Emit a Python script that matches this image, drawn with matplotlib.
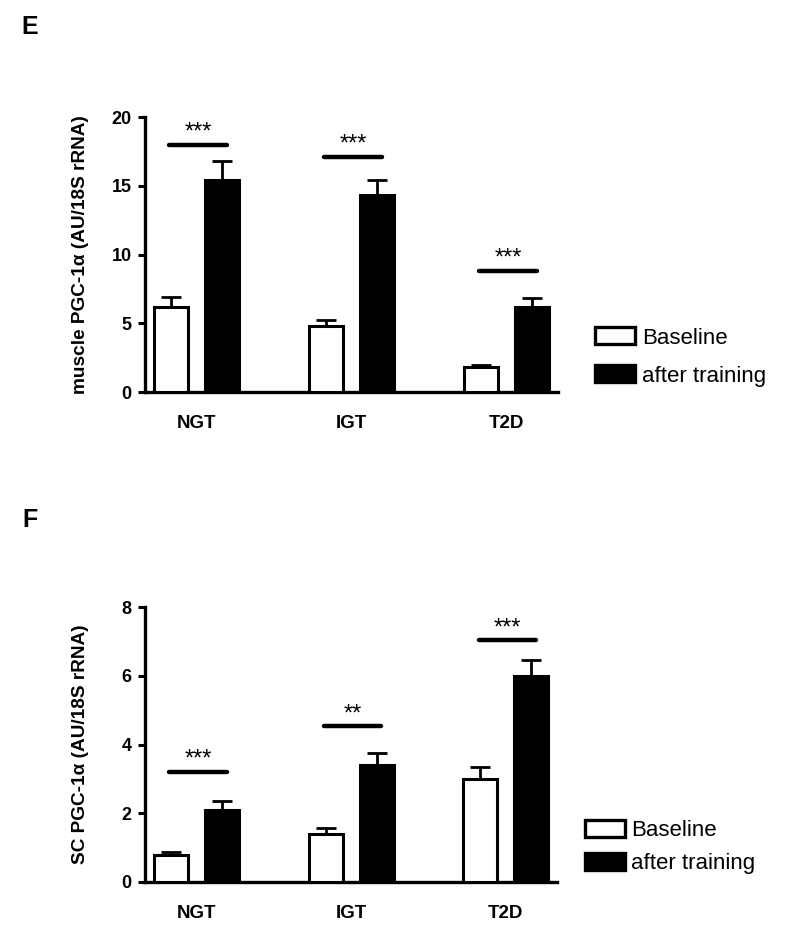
import numpy as np
import matplotlib
matplotlib.use("Agg")
import matplotlib.pyplot as plt
from matplotlib.patches import Patch

plt.rcParams['font.family'] = ['Liberation Sans', 'DejaVu Sans']

groups = ['NGT', 'IGT', 'T2D']

# panel E: muscle PGC-1a
muscle_base = [6.2, 4.8, 1.8]
muscle_base_err = [0.7, 0.45, 0.15]
muscle_train = [15.45, 14.3, 6.2]
muscle_train_err = [1.35, 1.15, 0.65]
muscle_sig = ['***', '***', '***']
muscle_sig_y = [18.0, 17.1, 8.8]

# panel F: SC PGC-1a
sc_base = [0.8, 1.4, 3.0]
sc_base_err = [0.07, 0.18, 0.35]
sc_train = [2.1, 3.4, 6.0]
sc_train_err = [0.25, 0.35, 0.47]
sc_sig = ['***', '**', '***']
sc_sig_y = [3.2, 4.53, 7.03]


def panel(ax, base, base_err, train, train_err, sig, sig_y, ymax, yticks, ylabel):
    x = np.arange(len(groups))
    off = 0.166
    w = 0.22
    ax.bar(x - off, base, w, color='white', edgecolor='black', linewidth=2.2, zorder=3,
           yerr=[np.zeros(len(base)), base_err],
           error_kw=dict(ecolor='black', elinewidth=2.0, capsize=7, capthick=2.0, zorder=2))
    ax.bar(x + off, train, w, color='black', edgecolor='black', linewidth=2.2, zorder=3,
           yerr=[np.zeros(len(train)), train_err],
           error_kw=dict(ecolor='black', elinewidth=2.0, capsize=7, capthick=2.0, zorder=2))

    for i in range(len(groups)):
        ax.plot([x[i] - off - 0.01, x[i] + off + 0.03], [sig_y[i], sig_y[i]],
                color='black', lw=3.2, solid_capstyle='round', clip_on=False, zorder=4)
        ax.annotate(sig[i], (x[i] + 0.01, sig_y[i]), xytext=(0, 4.5),
                    textcoords='offset points', ha='center', va='baseline',
                    fontsize=17, annotation_clip=False)

    ax.set_xlim(-0.335, 2.33)
    ax.set_ylim(0, ymax)
    ax.set_yticks(yticks)
    ax.set_xticks(x)
    ax.set_xticklabels(groups, fontsize=13.5, fontweight='bold')
    for t in ax.get_yticklabels():
        t.set_fontsize(13)
        t.set_fontweight('bold')
    ax.tick_params(axis='x', length=0, pad=16.5)
    ax.tick_params(axis='y', length=5, width=2.2, pad=4.5, direction='out')
    for s in ['top', 'right']:
        ax.spines[s].set_visible(False)
    for s in ['left', 'bottom']:
        ax.spines[s].set_linewidth(2.4)
    ax.set_ylabel(ylabel, fontsize=13.7, fontweight='bold')
    ax.yaxis.set_label_coords(-0.135, 0.5)


fig = plt.figure(figsize=(8, 9.41), dpi=100)

ax1 = fig.add_axes([0.181, 0.5834, 0.5163, 0.2922])
panel(ax1, muscle_base, muscle_base_err, muscle_train, muscle_train_err,
      muscle_sig, muscle_sig_y, 20, [0, 5, 10, 15, 20], 'muscle PGC-1\u03b1 (AU/18S rRNA)')

ax2 = fig.add_axes([0.181, 0.0627, 0.5150, 0.2922])
panel(ax2, sc_base, sc_base_err, sc_train, sc_train_err,
      sc_sig, sc_sig_y, 8, [0, 2, 4, 6, 8], 'SC PGC-1\u03b1 (AU/18S rRNA)')

handles = [Patch(facecolor='white', edgecolor='black', linewidth=2.4, label='Baseline'),
           Patch(facecolor='black', edgecolor='black', linewidth=2.4, label='after training')]

fig.legend(handles=handles, loc='center left', bbox_to_anchor=(0.744, 0.6206),
           frameon=False, fontsize=16, handlelength=1.8, handleheight=0.8,
           handletextpad=0.3, labelspacing=0.75, borderpad=0, borderaxespad=0)
fig.legend(handles=handles, loc='center left', bbox_to_anchor=(0.731, 0.0999),
           frameon=False, fontsize=16, handlelength=1.8, handleheight=0.8,
           handletextpad=0.3, labelspacing=0.5, borderpad=0, borderaxespad=0)

fig.text(30 / 800, 1 - 27 / 941, 'E', fontsize=18, fontweight='bold', ha='center', va='center')
fig.text(30 / 800, 1 - 520 / 941, 'F', fontsize=18, fontweight='bold', ha='center', va='center')

fig.savefig('out.png', dpi=100)
